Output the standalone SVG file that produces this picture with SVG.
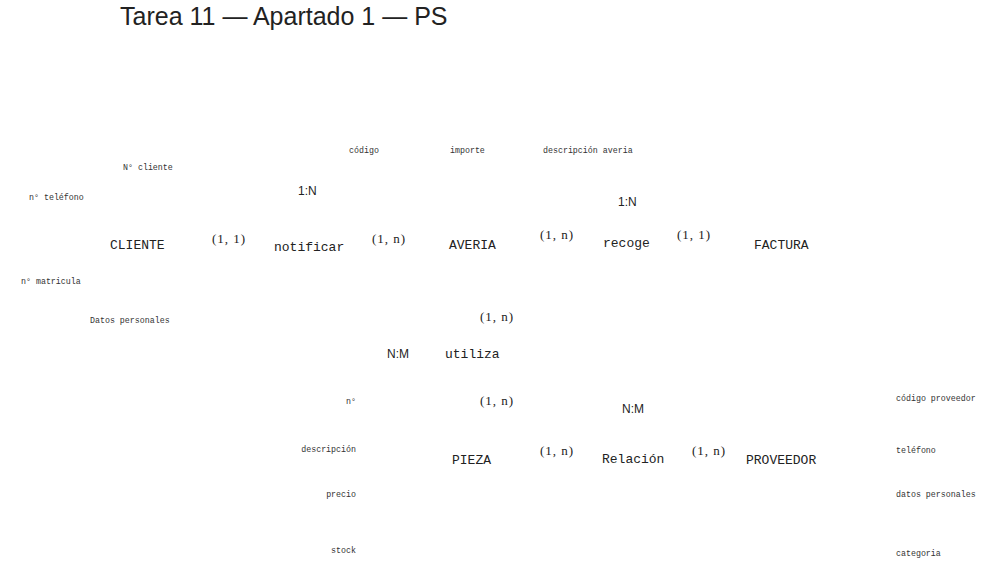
<svg xmlns="http://www.w3.org/2000/svg" width="999" height="572" viewBox="0 0 999 572">
<style>
.title{font-family:"Liberation Sans",Arial,sans-serif;font-size:25px;fill:#222}
.attr{font-family:"Liberation Mono","Courier New",monospace;font-size:8.3px;fill:#333}
.ent{font-family:"Liberation Mono","Courier New",monospace;font-size:13px;fill:#222}
.card{font-family:"Liberation Serif","Times New Roman",serif;font-size:13px;fill:#222;letter-spacing:1px}
.ratio{font-family:"Liberation Sans",Arial,sans-serif;font-size:12px;fill:#222}
.r{text-anchor:end}
</style>
<rect width="999" height="572" fill="#fff"/>
<text class="title" x="120" y="25">Tarea 11 — Apartado 1 — PS</text>

<g id="cliente">
<text class="ent" x="110" y="249">CLIENTE</text>
<text class="attr" x="123" y="170">N° cliente</text>
<text class="attr" x="29" y="200">n° teléfono</text>
<text class="attr" x="21" y="284">n° matricula</text>
<text class="attr" x="90" y="323">Datos personales</text>
</g>
<g id="notificar">
<text class="ent" x="274" y="251">notificar</text>
<text class="ratio" x="298" y="195">1:N</text>
</g>
<g id="averia">
<text class="ent" x="449" y="249">AVERIA</text>
<text class="attr" x="349" y="153">código</text>
<text class="attr" x="450" y="153">importe</text>
<text class="attr" x="543" y="153">descripción averia</text>
</g>
<g id="recoge">
<text class="ent" x="603" y="247">recoge</text>
<text class="ratio" x="618" y="206">1:N</text>
</g>
<g id="factura">
<text class="ent" x="754" y="249">FACTURA</text>
</g>
<g id="utiliza">
<text class="ent" x="445" y="358">utiliza</text>
<text class="ratio" x="387" y="358">N:M</text>
</g>
<g id="pieza">
<text class="ent" x="452" y="464">PIEZA</text>
<text class="attr r" x="356" y="404">n°</text>
<text class="attr r" x="356" y="452">descripción</text>
<text class="attr r" x="356" y="497">precio</text>
<text class="attr r" x="356" y="553">stock</text>
</g>
<g id="relacion">
<text class="ent" x="602" y="463">Relación</text>
<text class="ratio" x="622" y="413">N:M</text>
</g>
<g id="proveedor">
<text class="ent" x="746" y="464">PROVEEDOR</text>
<text class="attr" x="896" y="401">código proveedor</text>
<text class="attr" x="896" y="453">teléfono</text>
<text class="attr" x="896" y="497">datos personales</text>
<text class="attr" x="896" y="556">categoria</text>
</g>
<g id="connectors">
<text class="card" x="212" y="243">(1, 1)</text>
<text class="card" x="372" y="243">(1, n)</text>
<text class="card" x="540" y="239">(1, n)</text>
<text class="card" x="677" y="239">(1, 1)</text>
<text class="card" x="480" y="321">(1, n)</text>
<text class="card" x="480" y="405">(1, n)</text>
<text class="card" x="540" y="455">(1, n)</text>
<text class="card" x="692" y="455">(1, n)</text>
</g>
</svg>
